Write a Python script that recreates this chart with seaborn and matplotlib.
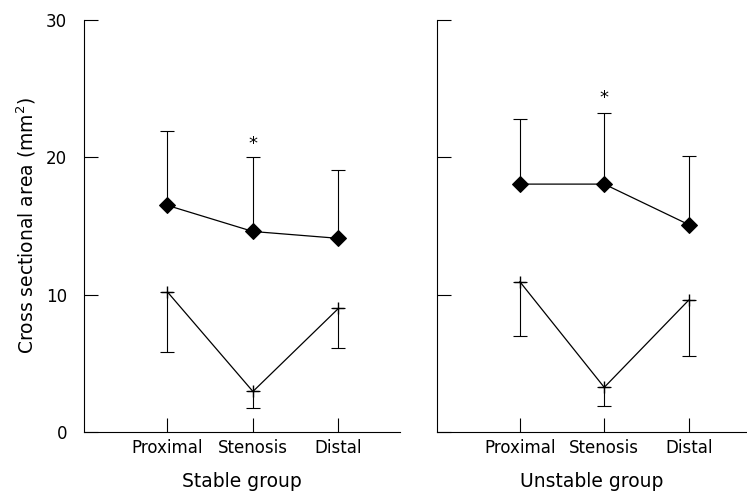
import matplotlib
matplotlib.use("Agg")
import matplotlib.pyplot as plt
import seaborn as sns
import numpy as np
import pandas as pd

sns.set_style("ticks")
plt.rcParams['font.family'] = ['DejaVu Sans']
plt.rcParams['text.color'] = 'black'
plt.rcParams['axes.labelcolor'] = 'black'
plt.rcParams['xtick.color'] = 'black'
plt.rcParams['ytick.color'] = 'black'
plt.rcParams['axes.edgecolor'] = 'black'

sites = ["Proximal", "Stenosis", "Distal"]

# stable group
stable_upper = [16.5, 14.6, 14.1]
stable_upper_sd = [5.4, 5.4, 4.95]
stable_lower = [10.2, 2.95, 9.0]
stable_lower_sd = [4.35, 1.2, 2.85]

# unstable group
unstable_upper = [18.05, 18.05, 15.1]
unstable_upper_sd = [4.75, 5.2, 5.0]
unstable_lower = [10.95, 3.25, 9.6]
unstable_lower_sd = [3.95, 1.35, 4.05]

star_y = [21.0, 24.3]
groups = ["Stable group", "Unstable group"]

fig = plt.figure(figsize=(7.47, 4.95), dpi=100)
ax1 = fig.add_axes([0.1124, 0.1273, 0.4231, 0.8323])
ax2 = fig.add_axes([0.585, 0.1273, 0.415, 0.8323])

panels = [
    (ax1, stable_upper, stable_upper_sd, stable_lower, stable_lower_sd, (-0.976, 2.72)),
    (ax2, unstable_upper, unstable_upper_sd, unstable_lower, unstable_lower_sd, (-0.98, 2.69)),
]

for i, (ax, up, up_sd, lo, lo_sd, xl) in enumerate(panels):
    df_up = pd.DataFrame({"site": sites, "area": up})
    df_lo = pd.DataFrame({"site": sites, "area": lo})
    x = np.arange(len(sites))

    ax.errorbar(x, up, yerr=[np.zeros(3), up_sd], fmt="none", ecolor="black",
                elinewidth=0.8, capsize=5, capthick=0.8, zorder=1)
    ax.errorbar(x, lo, yerr=[lo_sd, np.zeros(3)], fmt="none", ecolor="black",
                elinewidth=0.8, capsize=5, capthick=0.8, zorder=1)

    sns.lineplot(data=df_up, x="site", y="area", ax=ax, color="black", lw=0.9,
                 marker="D", markersize=8, markeredgecolor="black", sort=False, zorder=3)
    sns.lineplot(data=df_lo, x="site", y="area", ax=ax, color="black", lw=0.9,
                 marker="+", markersize=9, markeredgewidth=1.0, markeredgecolor="black",
                 sort=False, zorder=3)

    ax.text(1, star_y[i], "*", ha="center", va="center", fontsize=13)

    ax.set_xlim(*xl)
    ax.set_ylim(0, 30)
    ax.set_yticks([0, 10, 20, 30])
    ax.set_xticks(x)
    ax.set_xticklabels(sites)
    ax.tick_params(axis="both", direction="in", length=10, width=0.8, labelsize=12)
    ax.tick_params(axis="y", pad=12)
    ax.tick_params(axis="x", pad=5)
    ax.set_xlabel(groups[i], fontsize=13.5, labelpad=11)
    sns.despine(ax=ax)
    for s in ["left", "bottom"]:
        ax.spines[s].set_linewidth(0.8)

ax1.set_ylabel("Cross sectional area (mm$^2$)", fontsize=13.5, labelpad=6)
ax2.set_ylabel("")
ax2.set_yticklabels([])

fig.savefig("out.png", dpi=100)
